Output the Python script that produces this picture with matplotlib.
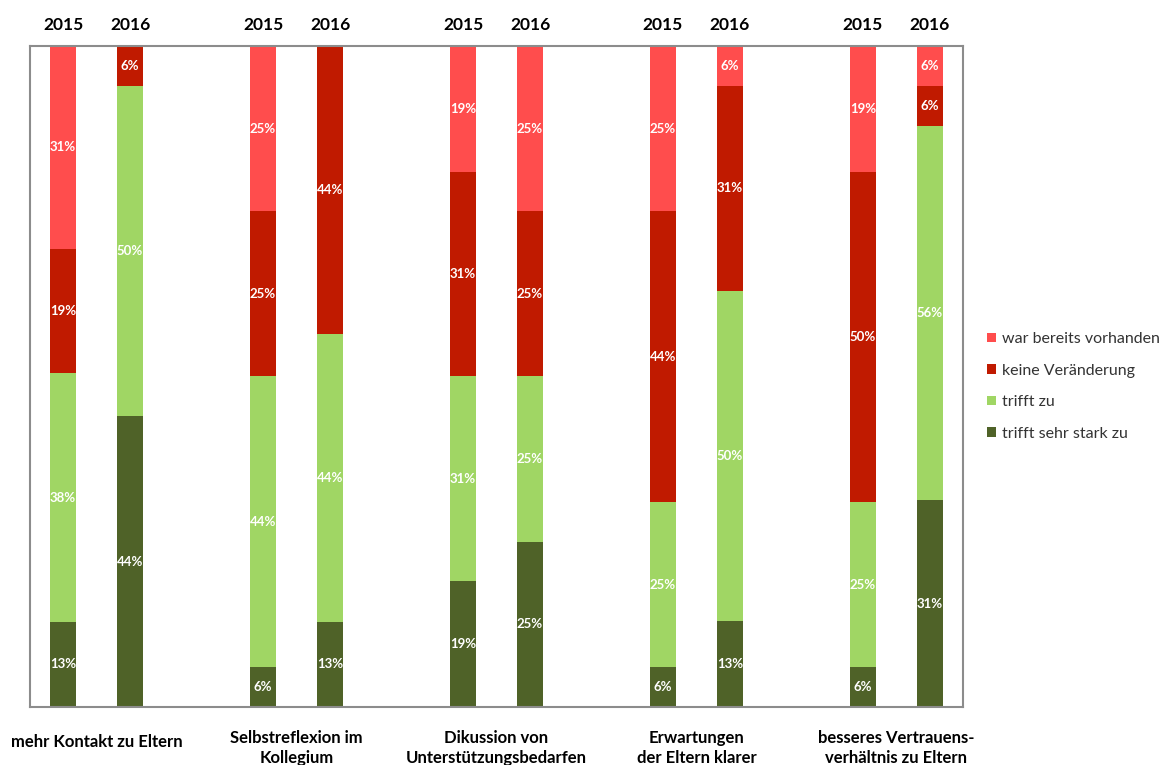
import numpy as np
import matplotlib.pyplot as plt
from matplotlib.patches import Patch
from matplotlib.transforms import blended_transform_factory

plt.rcParams["font.family"] = ["Lato", "DejaVu Sans"]

categories = ["mehr Kontakt zu Eltern", "Selbstreflexion im\nKollegium",
              "Dikussion von\nUnterstützungsbedarfen", "Erwartungen\nder Eltern klarer",
              "besseres Vertrauens-\nverhältnis zu Eltern"]
years = ["2015", "2016"]
series = ["trifft sehr stark zu", "trifft zu", "keine Veränderung", "war bereits vorhanden"]
colors = ["#4F6228", "#A0D664", "#C01A00", "#FF4D4D"]

# percentages per year, one list per answer (bottom to top of the stack)
values_2015 = {
    "trifft sehr stark zu": [13, 6, 19, 6, 6],
    "trifft zu": [38, 44, 31, 25, 25],
    "keine Veränderung": [19, 25, 31, 44, 50],
    "war bereits vorhanden": [31, 25, 19, 25, 19],
}
values_2016 = {
    "trifft sehr stark zu": [44, 13, 25, 13, 31],
    "trifft zu": [50, 44, 25, 50, 56],
    "keine Veränderung": [6, 44, 25, 31, 6],
    "war bereits vorhanden": [0, 0, 25, 6, 6],
}

fig = plt.figure(figsize=(11.64, 7.65), dpi=100)
ax = fig.add_axes([0.0258, 0.0758, 0.8015, 0.8641])

x = np.arange(len(categories))
offset = 0.1675
width = 0.13

for yi, data in enumerate([values_2015, values_2016]):
    pos = x + (-offset if yi == 0 else offset)
    vals = np.array([data[s] for s in series], dtype=float)
    totals = vals.sum(axis=0)
    bottom = np.zeros(len(categories))
    for si, s in enumerate(series):
        share = vals[si] / totals
        ax.bar(pos, share, width, bottom=bottom, color=colors[si], linewidth=0)
        for xp, b, h, v in zip(pos, bottom, share, vals[si]):
            if v > 0:
                ax.text(xp, b + h / 2, f"{int(v)}%", ha="center", va="center",
                        color="white", fontsize=9.5, fontweight="bold")
        bottom += share

ax.set_xlim(-0.3325, len(categories) - 1 + 0.3325)
ax.set_ylim(0, 1)
ax.set_xticks([])
ax.set_yticks([])
for sp in ax.spines.values():
    sp.set_color("#8C8C8C")
    sp.set_linewidth(1.5)

trans = blended_transform_factory(ax.transData, ax.transAxes)
for i in x:
    for yi, yr in enumerate(years):
        xp = i + (-offset if yi == 0 else offset)
        ax.text(xp, 1.032, yr, transform=trans, ha="center", va="center",
                fontsize=12.5, fontweight="bold", color="black")
    nlines = categories[i].count("\n") + 1
    ax.text(i, -0.053 - 0.009 * (nlines - 1), categories[i], transform=trans,
            ha="center", va="center", fontsize=12, fontweight="bold",
            color="black", linespacing=1.25)

handles = [Patch(facecolor=c, edgecolor="none") for c in colors[::-1]]
fig.legend(handles, series[::-1], loc="center left", bbox_to_anchor=(0.836, 0.495),
           frameon=False, fontsize=11.5, handlelength=0.55, handleheight=0.55,
           handletextpad=0.35, labelspacing=1.1, labelcolor="#333333")

fig.savefig("out.png", dpi=100)
